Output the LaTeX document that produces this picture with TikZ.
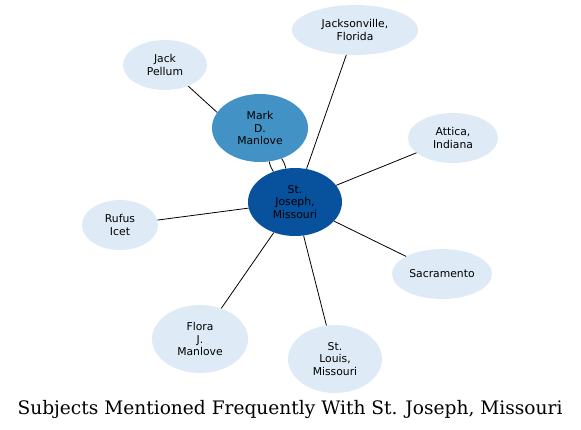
\documentclass[tikz,border=0pt]{standalone}
\usepackage{fontspec}
\usepackage{tikz}
\usetikzlibrary{shapes.geometric}
\newfontfamily\labelfont{DejaVu Sans}
\newfontfamily\titlefont{DejaVu Serif}
\definecolor{hubblue}{HTML}{08519C}
\definecolor{midblue}{HTML}{4292C6}
\definecolor{paleblue}{HTML}{DEEBF7}

\begin{document}
\begin{tikzpicture}[x=1pt, y=-1pt,
    every node/.style={font=\labelfont\fontsize{10.8}{12.5}\selectfont},
    subj/.style={ellipse, fill=paleblue, inner sep=0pt, align=center},
    link/.style={line width=0.8pt}]
    \useasboundingbox (0,0) rectangle (581,429);
    \node[subj, fill=hubblue, minimum width=94pt, minimum height=68pt] (stj) at (295,202) {St.\\Joseph,\\Missouri};
    \node[subj, fill=midblue, minimum width=96pt, minimum height=68pt] (mark) at (260,128) {Mark\\D.\\Manlove};
    \node[subj, minimum width=84pt, minimum height=50pt] (jack) at (165,65) {Jack\\Pellum};
    \node[subj, minimum width=126pt, minimum height=50pt] (jax) at (355,30) {Jacksonville,\\Florida};
    \node[subj, minimum width=90pt, minimum height=50pt] (attica) at (453,138) {Attica,\\Indiana};
    \node[subj, minimum width=76pt, minimum height=50pt] (rufus) at (120,225) {Rufus\\Icet};
    \node[subj, minimum width=100pt, minimum height=50pt] (sac) at (442,274) {Sacramento};
    \node[subj, minimum width=96pt, minimum height=68pt] (flora) at (200,339) {Flora\\J.\\Manlove};
    \node[subj, minimum width=94pt, minimum height=68pt] (stl) at (335,359) {St.\\Louis,\\Missouri};
    \draw[link] (jack) -- (mark.160);
    \draw[link] (mark) to[bend right=10] (stj);
    \draw[link] (mark) to[bend left=10] (stj);
    \draw[link] (stj) -- (jax);
    \draw[link] (stj) -- (attica);
    \draw[link] (stj) -- (rufus);
    \draw[link] (stj) -- (sac);
    \draw[link] (stj) -- (flora);
    \draw[link] (stj) -- (stl);
    \node[font=\titlefont\fontsize{18.6}{21}\selectfont, anchor=base] (title) at (290,414) {Subjects Mentioned Frequently With St. Joseph, Missouri};
\end{tikzpicture}
\end{document}
